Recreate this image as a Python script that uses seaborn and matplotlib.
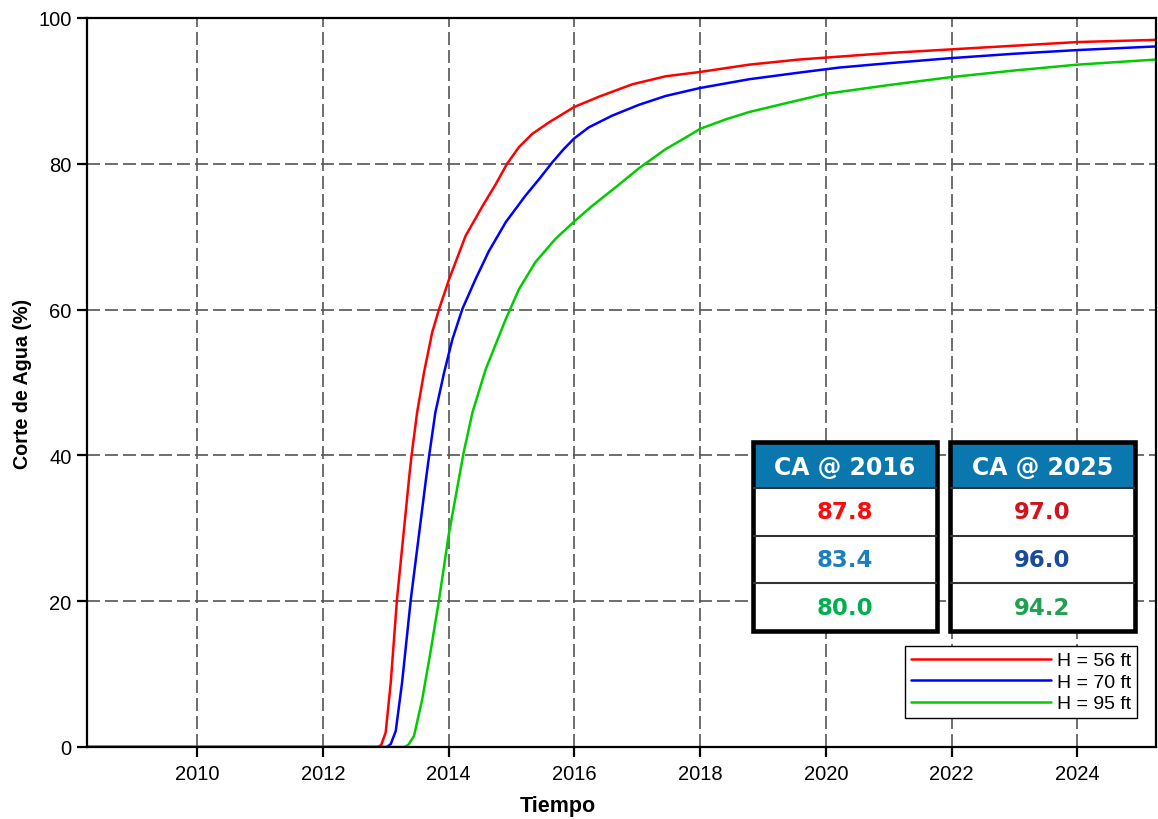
import numpy as np
import pandas as pd
import matplotlib
matplotlib.use("Agg")
import matplotlib.pyplot as plt
from matplotlib.patches import Rectangle
import seaborn as sns

# curve values (year, water cut %)
red_t = [2008.25, 2012.88, 2012.93, 2013.00, 2013.08, 2013.18, 2013.37, 2013.41, 2013.50,
         2013.61, 2013.74, 2013.85, 2014.01, 2014.27, 2014.54, 2014.75, 2014.93,
         2015.12, 2015.33, 2015.60, 2016.0, 2016.39, 2016.92, 2017.45, 2018.0, 2018.78,
         2019.57, 2020.21, 2021.0, 2022.0, 2023.0, 2024.0, 2025.25]
red_v = [0, 0, 0.3, 2.0, 8.8, 20.3, 36.7, 39.9, 45.9,
         51.4, 56.9, 60.1, 64.2, 70.1, 74.2, 77.2, 80.0,
         82.3, 84.1, 85.7, 87.8, 89.2, 90.9, 92.0, 92.6, 93.6,
         94.3, 94.7, 95.2, 95.7, 96.2, 96.7, 97.0]

blue_t = [2008.25, 2013.02, 2013.08, 2013.16, 2013.26, 2013.40, 2013.64, 2013.69, 2013.79,
          2013.93, 2014.06, 2014.22, 2014.43, 2014.64, 2014.91, 2015.22, 2015.44, 2015.65,
          2015.83, 2016.0, 2016.23, 2016.60, 2017.03, 2017.45, 2018.0, 2018.78, 2019.57,
          2020.21, 2021.0, 2022.0, 2023.0, 2024.0, 2025.25]
blue_v = [0, 0, 0.4, 2.2, 8.8, 20.3, 36.7, 39.9, 45.9,
          51.4, 55.9, 60.1, 64.2, 68.0, 72.0, 75.6, 77.9, 80.2,
          82.0, 83.5, 85.0, 86.6, 88.1, 89.3, 90.4, 91.6, 92.5,
          93.2, 93.8, 94.5, 95.1, 95.6, 96.1]

green_t = [2008.25, 2013.30, 2013.36, 2013.45, 2013.58, 2013.72, 2013.85, 2014.0, 2014.24,
           2014.38, 2014.59, 2014.91, 2015.12, 2015.38, 2015.70, 2016.0, 2016.28, 2016.66,
           2017.03, 2017.45, 2017.77, 2018.0, 2018.41, 2018.78, 2019.31, 2020.0, 2021.0,
           2022.0, 2023.0, 2024.0, 2025.25]
green_v = [0, 0, 0.3, 1.5, 6.5, 13.4, 20.3, 29.0, 40.4,
           45.9, 51.8, 58.7, 62.8, 66.5, 69.7, 72.1, 74.2, 76.8,
           79.4, 82.0, 83.6, 84.8, 86.1, 87.1, 88.2, 89.6, 90.8,
           91.9, 92.8, 93.6, 94.3]

series_labels = ["H = 56 ft", "H = 70 ft", "H = 95 ft"]
series_colors = ["#FF0000", "#0000FF", "#00CC00"]

table_headers = ["CA @ 2016", "CA @ 2025"]
table_2016 = ["87.8", "83.4", "80.0"]
table_2025 = ["97.0", "96.0", "94.2"]
colors_2016 = ["#FF0A0A", "#1A7FBF", "#00B050"]
colors_2025 = ["#D0141E", "#1A4A9A", "#20A050"]

frames = []
for t, v, lab in zip([red_t, blue_t, green_t], [red_v, blue_v, green_v], series_labels):
    frames.append(pd.DataFrame({"Tiempo": t, "CA": v, "Serie": lab}))
df = pd.concat(frames, ignore_index=True)

sns.set_theme(style="white")
plt.rcParams["font.family"] = ["Liberation Sans", "DejaVu Sans"]
plt.rcParams["text.color"] = "black"

W, H = 1158, 820
fig = plt.figure(figsize=(W / 100, H / 100), dpi=100)
ax = fig.add_axes([87 / W, 1 - 748 / H, (1156 - 87) / W, (748 - 19) / H])

sns.lineplot(data=df, x="Tiempo", y="CA", hue="Serie",
             palette=dict(zip(series_labels, series_colors)),
             estimator=None, sort=False, linewidth=1.8, legend=False, ax=ax)

ax.set_xlim(2008.25, 2025.25)
ax.set_ylim(0, 100)
ax.set_xticks(np.arange(2010, 2025, 2))
ax.set_yticks(np.arange(0, 101, 20))
ax.grid(True, color="#555555", linewidth=1.2, linestyle=(0, (7.8, 3.0)))
ax.set_axisbelow(True)
for s in ax.spines.values():
    s.set_color("black")
    s.set_linewidth(1.6)
ax.tick_params(axis="both", direction="out", length=7.5, width=1.6,
               colors="black", labelsize=14.5, left=True, bottom=True)
ax.tick_params(axis="x", pad=5)
ax.set_xlabel("Tiempo", fontsize=15.5, fontweight="bold", color="black")
ax.set_ylabel("Corte de Agua (%)", fontsize=14.2, fontweight="bold", color="black",
              labelpad=4.5)
ax.xaxis.set_label_coords(0.44, -0.066)

leg = ax.legend(ax.lines[:3], series_labels, loc="upper right",
                bbox_to_anchor=(0.982, 0.1385), borderaxespad=0, fontsize=14,
                handlelength=7.2, handletextpad=0.3, labelspacing=0.2,
                frameon=True, fancybox=False, edgecolor="black", framealpha=1,
                borderpad=0.3)
leg.get_frame().set_linewidth(1.0)
for txt in leg.get_texts():
    txt.set_color("black")


def draw_table(x0, y0, x1, y1, header, values, colors):
    tax = fig.add_axes([x0 / W, 1 - y1 / H, (x1 - x0) / W, (y1 - y0) / H])
    tax.set_xlim(0, 1)
    tax.set_ylim(1, 0)
    tax.axis("off")
    hh = 46 / (y1 - y0)
    rh = (1 - hh) / 3
    tax.add_patch(Rectangle((0, 0), 1, 1, facecolor="white", edgecolor="none"))
    tax.add_patch(Rectangle((0, 0), 1, hh, facecolor="#0A78AE", edgecolor="none"))
    tax.text(0.5, hh / 2 + 0.01, header, ha="center", va="center", color="white",
             fontsize=17, fontweight="bold", family="DejaVu Sans")
    for i, (val, c) in enumerate(zip(values, colors)):
        yc = hh + rh * (i + 0.5)
        tax.text(0.5, yc, val, ha="center", va="center", color=c,
                 fontsize=16.5, fontweight="bold", family="DejaVu Sans")
        if i > 0:
            tax.plot([0, 1], [hh + rh * i] * 2, color="#333333", lw=1.5)
    tax.plot([0, 1], [hh, hh], color="#333333", lw=1.5)
    tax.add_patch(Rectangle((0, 0), 1, 1, facecolor="none", edgecolor="black",
                            lw=3.3, clip_on=False))


draw_table(753, 443, 937, 632, table_headers[0], table_2016, colors_2016)
draw_table(949.5, 443, 1135, 632, table_headers[1], table_2025, colors_2025)

fig.savefig("out.png", dpi=100)
